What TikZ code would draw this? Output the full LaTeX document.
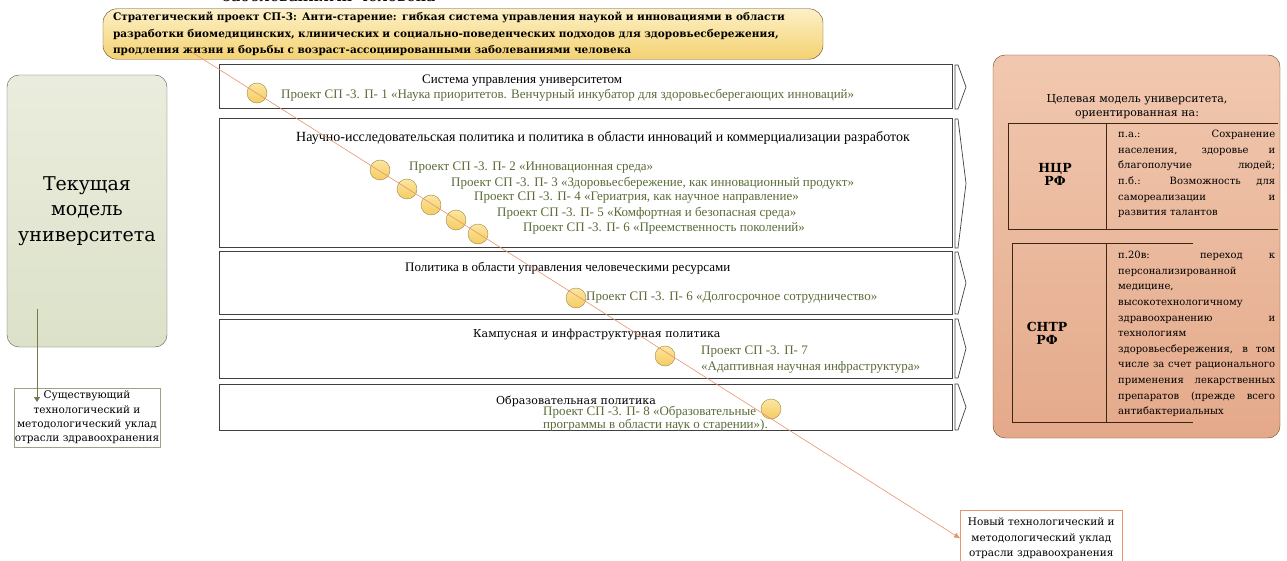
\documentclass[tikz,border=0pt]{standalone}
\usepackage{fontspec}
\setmainfont{Liberation Serif}
\newfontfamily\djserif{DejaVu Serif}
\usetikzlibrary{arrows.meta}

\definecolor{projgreen}{HTML}{5A6B38}
\definecolor{dotlight}{HTML}{FCE6A0}
\definecolor{dotfill}{HTML}{F5CC60}
\definecolor{dotline}{HTML}{9C8650}
\definecolor{diagline}{HTML}{E8946C}
\definecolor{olivearrow}{HTML}{77774C}
\definecolor{bannertop}{HTML}{FDF0C6}
\definecolor{bannerbot}{HTML}{F4D272}
\definecolor{curtop}{HTML}{EAEDDD}
\definecolor{curbot}{HTML}{DCE1C9}
\definecolor{tgtop}{HTML}{F1C8AF}
\definecolor{tgbot}{HTML}{E4A98A}

\newcommand{\jline}[1]{\makebox[157pt][s]{#1}}

\begin{document}
\begin{tikzpicture}[x=1pt,y=-1pt,
  rowbox/.style={draw=black!75,line width=1pt},
  rowtitle/.style={anchor=west,inner sep=0pt,font=\fontsize{13}{15}\selectfont},
  proj/.style={anchor=west,inner sep=0pt,text=projgreen,font=\fontsize{13}{16}\selectfont},
  projdot/.style={circle,draw=dotline,top color=dotlight,bottom color=dotfill,minimum size=20pt,inner sep=0pt},
  tabline/.style={draw=black!70!brown,line width=0.8pt},
  coltext/.style={anchor=north west,inner sep=0pt,align=left,font=\djserif\fontsize{10}{15.6}\selectfont}]
 \useasboundingbox (0,0) rectangle (1287,561);

 % caption cut by the page edge
 \node[anchor=base west,inner sep=0pt,font=\djserif\fontsize{16}{18}\selectfont] (topcap) at (222,2) {заболеваниями человека»};

 % strategic project banner
 \node[draw=black!50!brown,rounded corners=14pt,top color=bannertop,bottom color=bannerbot,
   minimum width=720pt,minimum height=48pt,inner xsep=10pt,text width=700pt,align=left,
   font=\djserif\bfseries\fontsize{10.5}{16.5}\selectfont] (banner) at (463,34)
   {Стратегический проект СП-3: Анти-старение: гибкая система управления наукой и инновациями в области\\
    разработки биомедицинских, клинических и социально-поведенческих подходов для здоровьесбережения,\\
    продления жизни и борьбы с возраст-ассоциированными заболеваниями человека};

 % current model
 \node[draw=black!65,rounded corners=12pt,top color=curtop,bottom color=curbot,
   minimum width=160pt,minimum height=272pt,align=center,
   font=\djserif\fontsize{19}{25.5}\selectfont] (curmodel) at (87,211) {Текущая\\модель\\университета};
 \node[draw=olivearrow!70,line width=0.5pt,minimum width=146pt,minimum height=59pt,inner sep=0pt,align=center,
   font=\djserif\fontsize{10.5}{14.3}\selectfont] (oldway) at (87,417.5)
   {Существующий\\технологический и\\методологический уклад\\отрасли здравоохранения};
 \coordinate (astart) at (37,309);
 \coordinate (aend) at (37,402);
 \draw[olivearrow,line width=0.8pt,-{Triangle[length=5pt,width=6pt]}] (astart) -- (aend);

 % policy rows
 \foreach \t/\b in {65/109,119/248,252/314,319/378,384/430} {
   \draw[rowbox] (219,\t) rectangle (952,\b);
   \draw[rowbox,line width=0.7pt] (955,\t) -- (958,\t) -- (966,{(\t+\b)/2}) -- (958,\b) -- (955,\b) -- cycle;
 }
 \node[rowtitle] (t1) at (422,81) {Система управления университетом};
 \node[proj] (p1) at (281,95) {Проект СП -3. П- 1 «Наука приоритетов. Венчурный инкубатор для здоровьесберегающих инноваций»};
 \node[rowtitle,font=\fontsize{14}{15}\selectfont] (t2) at (296,138) {Научно-исследовательская политика и политика в области инноваций и коммерциализации разработок};
 \node[proj] (p2) at (409,168) {Проект СП -3. П- 2 «Инновационная среда»};
 \node[proj] (p3) at (451,183) {Проект СП -3. П- 3 «Здоровьесбережение, как инновационный продукт»};
 \node[proj] (p4) at (474,198) {Проект СП -3. П- 4 «Гериатрия, как научное направление»};
 \node[proj] (p5) at (497,213) {Проект СП -3. П- 5 «Комфортная и безопасная среда»};
 \node[proj] (p6) at (523,228) {Проект СП -3. П- 6 «Преемственность поколений»};
 \node[rowtitle] (t3) at (405,268) {Политика в области управления человеческими ресурсами};
 \node[proj] (p6b) at (586,298) {Проект СП -3. П- 6 «Долгосрочное сотрудничество»};
 \node[rowtitle,font=\djserif\fontsize{11}{13}\selectfont] (t4) at (473,335) {Кампусная и инфраструктурная политика};
 \node[proj,align=left] (p7) at (701,360) {Проект СП -3. П- 7\\ «Адаптивная научная инфраструктура»};
 \node[rowtitle,font=\djserif\fontsize{11}{13}\selectfont] (t5) at (496,401) {Образовательная политика};
 \node[proj,align=left,font=\fontsize{13}{13}\selectfont] (p8) at (543,419) {Проект СП -3. П- 8 «Образовательные\\программы в области наук о старении»).};

 % projects along the path
 \foreach \n/\x/\y in {c1/257/93,c2/380/170,c3/407/189,c4/431/205,c5/456/220,c6/478/234,c7/576/298,c8/665/356,c9/771/409}
   \node[projdot] (\n) at (\x,\y) {};

 % target model
 \node[draw=black!45!brown,rounded corners=12pt,top color=tgtop,bottom color=tgbot,
   minimum width=287pt,minimum height=383pt] (target) at (1136.5,246.5) {};
 \node[align=center,inner sep=0pt,font=\djserif\fontsize{11}{13.3}\selectfont] (tgtitle) at (1137,106.5)
   {Целевая модель университета,\\ориентированная на:};
 \draw[tabline] (1278,123) -- (1008,123) -- (1008,229) -- (1278,229);
 \draw[tabline] (1106,123) -- (1106,229);
 \draw[tabline] (1193,243) -- (1012,243) -- (1012,422) -- (1193,422);
 \draw[tabline] (1106,243) -- (1106,422);
 \node[align=center,inner sep=0pt,font=\djserif\bfseries\fontsize{12.5}{13}\selectfont] (ncr) at (1055,174) {НЦР\\РФ};
 \node[align=center,inner sep=0pt,font=\djserif\bfseries\fontsize{12.5}{13}\selectfont] (sntr) at (1047,333) {СНТР\\РФ};
 \node[coltext] (ncrtext) at (1118,130)
   {\jline{п.а.: Сохранение}\\\jline{населения, здоровье и}\\\jline{благополучие людей;}\\
    \jline{п.б.: Возможность для}\\\jline{самореализации и}\\развития талантов};
 \node[coltext] (sntrtext) at (1118,251)
   {\jline{п.20в: переход к}\\персонализированной\\медицине,\\высокотехнологичному\\\jline{здравоохранению и}\\
    технологиям\\\jline{здоровьесбережения, в том}\\\jline{числе за счет рационального}\\\jline{применения лекарственных}\\
    \jline{препаратов (прежде всего}\\антибактериальных};

 % new way
 \node[anchor=north west,draw=diagline,line width=0.6pt,fill=white,minimum width=162pt,minimum height=56pt,align=center,
   font=\djserif\fontsize{10.5}{15.5}\selectfont] (newway) at (960,510)
   {Новый технологический и\\методологический уклад\\отрасли здравоохранения};
 \coordinate (lstart) at (190,51);
 \draw[diagline,line width=0.6pt,-{Triangle[length=6pt,width=5pt]}] (lstart) -- (newway.west);
\end{tikzpicture}
\end{document}
